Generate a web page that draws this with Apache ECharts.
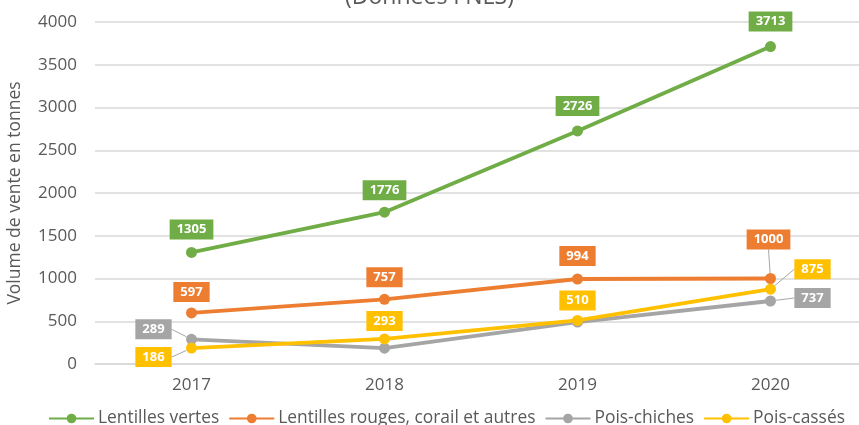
<!DOCTYPE html>
<html>
<head>
<meta charset="utf-8">
<script src="https://cdn.jsdelivr.net/npm/echarts@6/dist/echarts.min.js"></script>
<style>
  html, body { margin: 0; padding: 0; background: #fff; }
  #chart { width: 859px; height: 425px; }
</style>
</head>
<body>
<div id="chart"></div>
<script>
// données
const annees = ['2017', '2018', '2019', '2020'];
const lentillesVertes = [1305, 1776, 2726, 3713];
const lentillesRouges = [597, 757, 994, 1000];
const poisChiches = [289, 185, 490, 737];
const poisCasses = [186, 293, 510, 875];
const yTicks = [0, 500, 1000, 1500, 2000, 2500, 3000, 3500, 4000];

const gris = '#595959';
const font = 'Open Sans';

// étiquettes : décalage [dx, dy, trait de rappel] par point, null = pas d'étiquette
function serie(name, data, color, offsets) {
    return {
        name: name,
        type: 'line',
        data: data.map(function (v, i) {
            let o = offsets[i];
            return {
                value: v,
                label: { show: !!o },
                labelLine: { show: !!(o && o[2]) }
            };
        }),
        symbol: 'circle',
        symbolSize: 11,
        lineStyle: { width: 3.8, color: color },
        itemStyle: { color: color },
        label: {
            show: true,
            position: 'inside',
            backgroundColor: color,
            color: '#fff',
            fontWeight: 'bold',
            fontFamily: font,
            fontSize: 13,
            padding: [4, 7, 3, 7],
        },
        labelLine: { lineStyle: { color: '#a6a6a6', width: 1 } },
        labelLayout: function (p) {
            let o = offsets[p.dataIndex];
            if (!o) return {};
            return { dx: o[0], dy: o[1] };
        }
    };
}

const chart = echarts.init(document.getElementById('chart'));
chart.setOption({
    animation: false,
    title: {
        text: '(Données FNLS)',
        left: 'center',
        top: -19,
        textStyle: { color: gris, fontFamily: font, fontSize: 23, fontWeight: 'normal' }
    },
    legend: {
        top: 405,
        left: 43,
        itemWidth: 45,
        itemHeight: 12,
        itemGap: 9,
        textStyle: { color: gris, fontFamily: font, fontSize: 17.4, padding: [0, 0, 0, -1] },
        data: ['Lentilles vertes', 'Lentilles rouges, corail et autres', 'Pois-chiches', 'Pois-cassés']
    },
    grid: { left: 95, width: 772, top: 22, height: 342, outerBoundsMode: 'none' },
    xAxis: {
        type: 'category',
        data: annees,
        axisLine: { lineStyle: { color: '#d9d9d9', width: 1.5 } },
        axisTick: { show: false },
        axisLabel: { color: gris, fontFamily: font, fontSize: 17, margin: 13 }
    },
    yAxis: {
        type: 'value',
        min: yTicks[0],
        max: yTicks[yTicks.length - 1],
        interval: 500,
        name: 'Volume de vente en tonnes',
        nameLocation: 'middle',
        nameGap: 71,
        nameMoveOverlap: false,
        nameTextStyle: { color: gris, fontFamily: font, fontSize: 17.5 },
        axisLabel: {
            color: gris, fontFamily: font, fontSize: 17, margin: 18,
            formatter: function (v) { return String(v); }
        },
        splitLine: { lineStyle: { color: '#d9d9d9', width: 1.5 } }
    },
    series: [
        serie('Lentilles vertes', lentillesVertes, '#70ad47',
            [[0, -23], [0, -22], [0, -25], [0, -25]]),
        serie('Lentilles rouges, corail et autres', lentillesRouges, '#ed7d31',
            [[0, -21], [0, -22], [0, -23], [-2, -39, true]]),
        serie('Pois-chiches', poisChiches, '#a5a5a5',
            [[-38, -10, true], null, null, [42, -3, true]]),
        serie('Pois-cassés', poisCasses, '#ffc000',
            [[-38, 9, true], [0, -18], [0, -20], [42, -20, true]])
    ]
});
</script>
</body>
</html>
